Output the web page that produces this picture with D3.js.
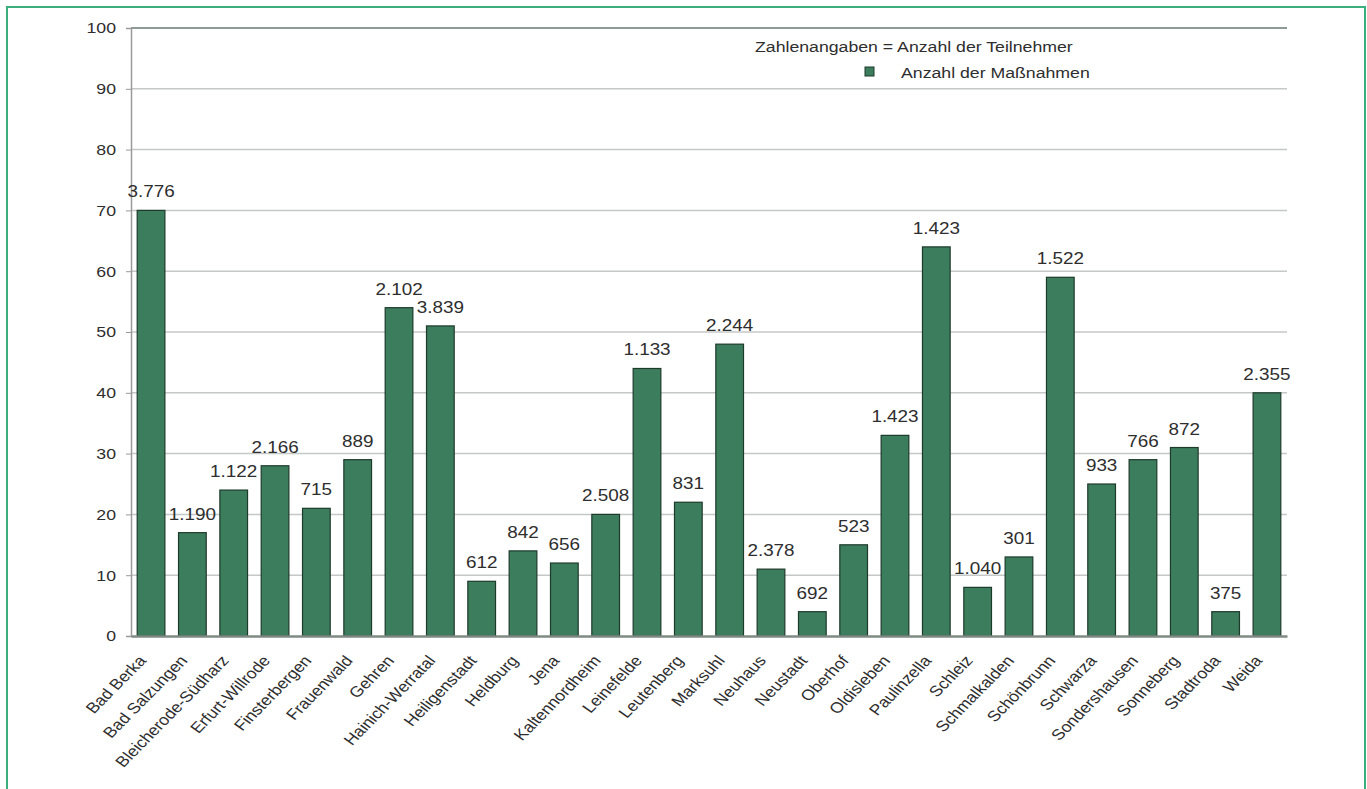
<!DOCTYPE html>
<html>
<head>
<meta charset="utf-8">
<script src="https://cdn.jsdelivr.net/npm/d3@7"></script>
<style>
  body { margin: 0; background: #fff; }
  text { font-family: "Liberation Sans", Arial, sans-serif; }
</style>
</head>
<body>
<svg id="chart" width="1367" height="789"></svg>
<script>
const categories = ["Bad Berka","Bad Salzungen","Bleicherode-Südharz","Erfurt-Willrode","Finsterbergen","Frauenwald","Gehren","Hainich-Werratal","Heiligenstadt","Heldburg","Jena","Kaltennordheim","Leinefelde","Leutenberg","Marksuhl","Neuhaus","Neustadt","Oberhof","Oldisleben","Paulinzella","Schleiz","Schmalkalden","Schönbrunn","Schwarza","Sondershausen","Sonneberg","Stadtroda","Weida"];
const massnahmen = [70,17,24,28,21,29,54,51,9,14,12,20,44,22,48,11,4,15,33,64,8,13,59,25,29,31,4,40];
const teilnehmer = ["3.776","1.190","1.122","2.166","715","889","2.102","3.839","612","842","656","2.508","1.133","831","2.244","2.378","692","523","1.423","1.423","1.040","301","1.522","933","766","872","375","2.355"];
const yTicks = [0,10,20,30,40,50,60,70,80,90,100];
const legendNote = "Zahlenangaben = Anzahl der Teilnehmer";
const legendSeries = "Anzahl der Maßnahmen";

const svg = d3.select("#chart");
const plotLeft = 131, plotRight = 1287, plotTop = 28, plotBottom = 636;
const stretch = 1.18; // horizontal widening of the lettering
const textColor = "#2e2e2e";

// outer frame
svg.append("rect").attr("x", 7).attr("y", 7).attr("width", 1358).attr("height", 800)
  .attr("fill", "#fff").attr("stroke", "#3aae7c").attr("stroke-width", 2);

const x = d3.scaleBand().domain(categories).range([plotLeft, plotRight]).paddingInner(0.33).paddingOuter(0.15);
const y = d3.scaleLinear().domain([0, 100]).range([plotBottom, plotTop]);

// gridlines
svg.append("g").selectAll("line").data(yTicks.filter(d => d > 0)).join("line")
  .attr("x1", plotLeft).attr("x2", plotRight)
  .attr("y1", d => y(d)).attr("y2", d => y(d))
  .attr("stroke", d => d === 100 ? "#8f9a94" : "#c4c8c6").attr("stroke-width", d => d === 100 ? 2 : 1.5);

// y axis
const yAxis = d3.axisLeft(y).tickValues(yTicks).tickSize(5).tickPadding(10).tickFormat(d3.format("d"));
const gy = svg.append("g").attr("transform", `translate(${plotLeft},0)`).call(yAxis);
gy.select(".domain").attr("stroke", "#9a9a9a").attr("stroke-width", 1.5);
gy.selectAll(".tick line").attr("stroke", "#9a9a9a");
gy.selectAll(".tick text")
  .attr("x", 0)
  .attr("transform", `translate(-15,0) scale(${stretch},1)`)
  .attr("font-size", 15).attr("fill", textColor).attr("font-family", "Liberation Sans, Arial, sans-serif");

// bars
svg.append("g").selectAll("rect").data(categories).join("rect")
  .attr("x", d => x(d)).attr("width", x.bandwidth())
  .attr("y", (d, i) => y(massnahmen[i]))
  .attr("height", (d, i) => y(0) - y(massnahmen[i]))
  .attr("fill", "#3c7d5d").attr("stroke", "#1d3a2b").attr("stroke-width", 1.2);

// x axis
const xAxis = d3.axisBottom(x).tickSize(0).tickPadding(0);
const gx = svg.append("g").attr("transform", `translate(0,${plotBottom})`).call(xAxis);
gx.select(".domain").attr("stroke", "#7f8a84").attr("stroke-width", 2.5);
gx.selectAll(".tick text")
  .attr("y", 0).attr("dy", 0)
  .attr("font-size", 15).attr("fill", textColor).attr("font-family", "Liberation Sans, Arial, sans-serif")
  .attr("text-anchor", "end")
  .attr("transform", `translate(-4,25) scale(${stretch},1) rotate(-50)`);

// value labels
svg.append("g").selectAll("text").data(categories).join("text")
  .attr("transform", (d, i) => `translate(${x(d) + x.bandwidth() / 2},${y(massnahmen[i]) - 13}) scale(${stretch},1)`)
  .attr("text-anchor", "middle")
  .attr("font-size", 16).attr("fill", textColor)
  .text((d, i) => teilnehmer[i]);

// legend
svg.append("text").attr("transform", `translate(755,52) scale(${stretch},1)`)
  .attr("font-size", 15).attr("fill", textColor).text(legendNote);
svg.append("rect").attr("x", 865).attr("y", 67).attr("width", 9).attr("height", 9)
  .attr("fill", "#3c7d5d").attr("stroke", "#1d3a2b").attr("stroke-width", 1);
svg.append("text").attr("transform", `translate(901,78) scale(${stretch},1)`)
  .attr("font-size", 15).attr("fill", textColor).text(legendSeries);
</script>
</body>
</html>
